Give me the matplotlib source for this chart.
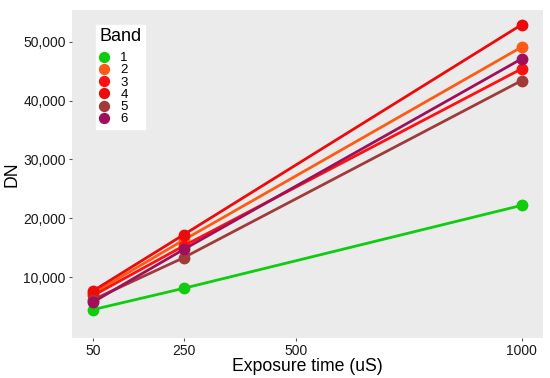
import matplotlib
matplotlib.use('Agg')
import matplotlib.pyplot as plt
from matplotlib.ticker import FuncFormatter

plt.rcParams['font.family'] = ['Liberation Sans', 'DejaVu Sans']

# 노출 시간 (uS)
exposure = [50, 250, 1000]

# 밴드별 DN 값
band1 = [4500, 8100, 22200]
band2 = [7300, 16300, 49100]
band3 = [6900, 15300, 45400]
band4 = [7700, 17200, 52900]
band5 = [6200, 13300, 43400]
band6 = [5800, 14700, 47100]

bands = ['1', '2', '3', '4', '5', '6']
values = [band1, band2, band3, band4, band5, band6]
colors = ['#10cc10', '#ff5a14', '#ff1010', '#ee0a0a', '#a33a3a', '#a0105a']

fig = plt.figure(figsize=(5.5, 3.78), dpi=100)
ax = fig.add_axes([72 / 550, 1 - 338 / 378, 471 / 550, 328 / 378])
ax.set_facecolor('#ebebeb')

for name, v, c in zip(bands, values, colors):
    ax.plot(exposure, v, color=c, lw=2.0, marker='o', ms=7.5, label=name,
            solid_capstyle='butt')

ax.set_xlim(2.5, 1047.5)
ax.set_ylim(-340, 55400)
ax.set_xticks([50, 250, 500, 1000])
ax.set_yticks([10000, 20000, 30000, 40000, 50000])
ax.yaxis.set_major_formatter(FuncFormatter(lambda x, p: '{:,.0f}'.format(x)))
ax.tick_params(axis='both', length=2.5, width=0.8, color='#555555',
               labelsize=10, labelcolor='#1a1a1a', pad=2)
for s in ax.spines.values():
    s.set_visible(False)

ax.set_xlabel('Exposure time (uS)', fontsize=12.7, labelpad=0)
ax.set_ylabel('DN', fontsize=12.7, labelpad=2)

leg = ax.legend(title='Band', loc='upper left', bbox_to_anchor=(0.051, 0.955),
                borderaxespad=0, frameon=True, fancybox=False,
                edgecolor='white', facecolor='white', framealpha=1,
                fontsize=9.5, title_fontsize=13, handlelength=0.75,
                handletextpad=0.85, labelspacing=0.0, borderpad=0.25,
                markerscale=0.95)
for h in leg.legend_handles:
    h.set_linestyle('none')
leg._legend_box.align = 'left'
leg._legend_box.sep = 5

plt.savefig('out.png', dpi=100)
